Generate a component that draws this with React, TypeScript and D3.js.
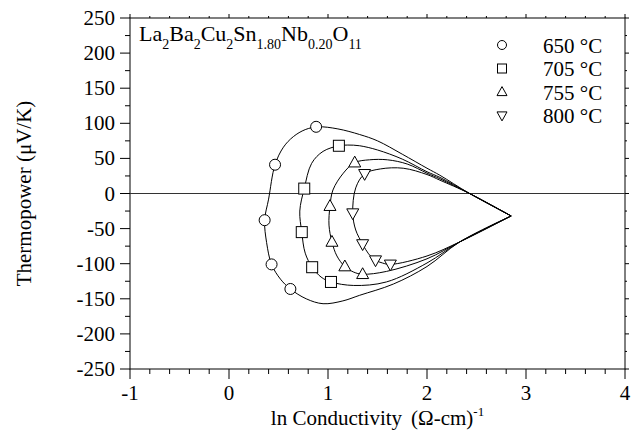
import * as d3 from "d3";

// legend labels
const seriesLabels = ["650 °C", "705 °C", "755 °C", "800 °C"];

// measured points (ln conductivity, thermopower)
const pts650 = [[0.88, 95], [0.465, 41], [0.36, -38], [0.43, -101], [0.62, -136]];
const pts705 = [[1.11, 68], [0.76, 7], [0.735, -55], [0.84, -105], [1.03, -126]];
const pts755 = [[1.27, 44], [1.02, -18], [1.04, -69], [1.17, -104], [1.35, -115]];
const pts800 = [[1.37, 28], [1.25, -28], [1.35, -72], [1.48, -95], [1.63, -101]];

// fitted loops (start and end at the common tip)
const fit650 = [
  [2.85, -32], [2.43, 0], [2.13, 26], [2.0, 36], [1.75, 56], [1.5, 75], [1.32, 84],
  [1.1, 92], [0.9, 95], [0.77, 91], [0.65, 81], [0.55, 66], [0.465, 41], [0.4, -8],
  [0.36, -38], [0.38, -70], [0.43, -101], [0.52, -122], [0.62, -136], [0.78, -150],
  [0.95, -157], [1.15, -153], [1.32, -145], [1.66, -129], [2.0, -104], [2.33, -69], [2.85, -32],
];
const fit705 = [
  [2.85, -32], [2.43, 0], [2.13, 23], [2.0, 31], [1.75, 49], [1.5, 62], [1.32, 68],
  [1.2, 69], [1.11, 68], [0.95, 60], [0.835, 43], [0.76, 7], [0.715, -25], [0.735, -55],
  [0.77, -85], [0.84, -105], [0.93, -119], [1.03, -126], [1.26, -131], [1.59, -126],
  [2.0, -99], [2.33, -69], [2.85, -32],
];
const fit755 = [
  [2.85, -32], [2.43, 0], [2.13, 21], [2.0, 29], [1.8, 42], [1.6, 48], [1.42, 48],
  [1.27, 44], [1.155, 29], [1.05, 5], [1.02, -18], [1.01, -45], [1.04, -69], [1.09, -89],
  [1.17, -104], [1.26, -112], [1.35, -115], [1.59, -111], [2.0, -93], [2.33, -69], [2.85, -32],
];
const fit800 = [
  [2.85, -32], [2.43, 0], [2.13, 19], [2.0, 27], [1.76, 36], [1.53, 35], [1.37, 28],
  [1.28, 8], [1.25, -28], [1.28, -52], [1.35, -72], [1.41, -86], [1.48, -95], [1.55, -99],
  [1.63, -101], [2.0, -89], [2.33, -69], [2.85, -32],
];

const xTickLabels = ["-1", "0", "1", "2", "3", "4"];
const yTickLabels = ["-250", "-200", "-150", "-100", "-50", "0", "50", "100", "150", "200", "250"];

const W = 639;
const H = 431;
const m = { left: 130, right: 625, top: 18, bottom: 369 };
const font = "'Liberation Serif', 'Times New Roman', serif";

const Marker = ({ kind, x, y, s }) => {
  const common = { fill: "#fff", stroke: "#000", strokeWidth: 1 };
  if (kind === 0) return <circle cx={x} cy={y} r={s / 2} {...common} />;
  if (kind === 1) return <rect x={x - s / 2} y={y - s / 2} width={s} height={s} {...common} />;
  const h = s * 0.9;
  if (kind === 2)
    return <path d={`M${x},${y - h * 0.6}L${x + s / 2},${y + h * 0.4}L${x - s / 2},${y + h * 0.4}Z`} {...common} />;
  return <path d={`M${x},${y + h * 0.6}L${x + s / 2},${y - h * 0.4}L${x - s / 2},${y - h * 0.4}Z`} {...common} />;
};

export default function App() {
  const x = d3.scaleLinear().domain([-1, 4]).range([m.left, m.right]);
  const y = d3.scaleLinear().domain([-250, 250]).range([m.bottom, m.top]);

  const line = d3
    .line()
    .x((d) => x(d[0]))
    .y((d) => y(d[1]))
    .curve(d3.curveCatmullRom.alpha(0.5));

  const fits = [fit650, fit705, fit755, fit800];
  const points = [pts650, pts705, pts755, pts800];

  const xMinor = d3.range(-1, 4.001, 0.2);
  const yMinor = d3.range(-250, 250.1, 25);

  return (
    <svg width={W} height={H} style={{ position: "absolute", left: 0, top: 0, background: "#fff" }} fontFamily={font}>
      {/* frame */}
      <rect x={m.left} y={m.top} width={m.right - m.left} height={m.bottom - m.top} fill="none" stroke="#000" strokeWidth={1} />
      {/* zero line */}
      <line x1={m.left} x2={m.right} y1={y(0)} y2={y(0)} stroke="#333" strokeWidth={1} />

      {/* x ticks */}
      {xMinor.map((v, i) => {
        const major = i % 5 === 0;
        return (
          <g key={"xt" + i}>
            <line x1={x(v)} x2={x(v)} y1={m.bottom} y2={m.bottom + (major ? 10 : 5)} stroke="#000" />
            <line x1={x(v)} x2={x(v)} y1={m.top} y2={m.top - (major ? 4 : 2)} stroke="#000" />
          </g>
        );
      })}
      {xTickLabels.map((t) => (
        <text key={t} x={x(+t)} y={400} textAnchor="middle" fontSize={21}>{t}</text>
      ))}

      {/* y ticks */}
      {yMinor.map((v, i) => {
        const major = i % 2 === 0;
        return (
          <g key={"yt" + i}>
            <line x1={m.left} x2={m.left - (major ? 10 : 5)} y1={y(v)} y2={y(v)} stroke="#000" />
            <line x1={m.right} x2={m.right + (major ? 4 : 2)} y1={y(v)} y2={y(v)} stroke="#000" />
          </g>
        );
      })}
      {yTickLabels.map((t) => (
        <text key={t} x={115} y={y(+t) + 7} textAnchor="end" fontSize={21}>{t}</text>
      ))}

      {/* axis titles */}
      <text x={(m.left + m.right) / 2} y={425} textAnchor="middle" fontSize={21}>
        <tspan>ln Conductivity</tspan>
        <tspan dx={9}>(Ω-cm)</tspan>
        <tspan fontSize={13} dy={-9}>-1</tspan>
      </text>
      <text transform={`translate(31,${y(0)}) rotate(-90)`} textAnchor="middle" fontSize={21}>
        Thermopower (μV/K)
      </text>

      {/* composition */}
      <text x={139} y={41} fontSize={22}>
        <tspan>La</tspan>
        <tspan fontSize={14} dy={8}>2</tspan>
        <tspan dy={-8}>Ba</tspan>
        <tspan fontSize={14} dy={8}>2</tspan>
        <tspan dy={-8}>Cu</tspan>
        <tspan fontSize={14} dy={8}>2</tspan>
        <tspan dy={-8}>Sn</tspan>
        <tspan fontSize={14} dy={8}>1.80</tspan>
        <tspan dy={-8}>Nb</tspan>
        <tspan fontSize={14} dy={8}>0.20</tspan>
        <tspan dy={-8}>O</tspan>
        <tspan fontSize={14} dy={8}>11</tspan>
      </text>

      {/* fitted curves */}
      {fits.map((f, i) => (
        <path key={"f" + i} d={line(f)} fill="none" stroke="#000" strokeWidth={1} />
      ))}

      {/* markers */}
      {points.map((ps, k) =>
        ps.map((p, j) => <Marker key={k + "-" + j} kind={k} x={x(p[0])} y={y(p[1])} s={k < 2 ? 11 : 12} />)
      )}

      {/* legend */}
      {seriesLabels.map((lab, i) => {
        const cy = 45 + i * 23.5;
        return (
          <g key={lab}>
            <Marker kind={i} x={502} y={cy} s={i < 2 ? 9 : 10} />
            <text x={543} y={cy + 7.5} fontSize={21}>{lab}</text>
          </g>
        );
      })}
    </svg>
  );
}
